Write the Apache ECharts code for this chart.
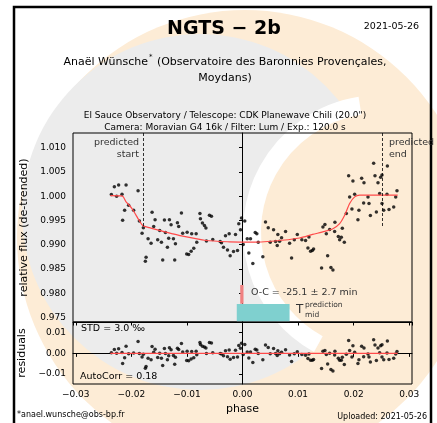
<!DOCTYPE html>
<html>
<head>
<meta charset="utf-8">
<script src="https://cdn.jsdelivr.net/npm/echarts@6/dist/echarts.min.js"></script>
<style>
  html, body { margin: 0; padding: 0; background: #fff; }
  #chart { width: 437px; height: 423px; }
</style>
</head>
<body>
<div id="chart"></div>
<script>
// measured light curve (phase, relative flux)
const phase = [
  -0.02360, -0.02306, -0.02265, -0.02229, -0.02168, -0.02157, -0.02121, -0.02095, -0.02049, -0.01959,
  -0.01879, -0.01856, -0.01807, -0.01784, -0.01748, -0.01735, -0.01699, -0.01645, -0.01627, -0.01598,
  -0.01573, -0.01526, -0.01490, -0.01459, -0.01436, -0.01405, -0.01387, -0.01351, -0.01328, -0.01315,
  -0.01285, -0.01243, -0.01220, -0.01207, -0.01171, -0.01148, -0.01099, -0.01076, -0.01004, -0.00996,
  -0.00968, -0.00924, -0.00914, -0.00877, -0.00834, -0.00823, -0.00766, -0.00757, -0.00721, -0.00685,
  -0.00658, -0.00649, -0.00595, -0.00559, -0.00535, -0.00402, -0.00378, -0.00342, -0.00306, -0.00270,
  -0.00240, -0.00222, -0.00162, -0.00126, -0.00090, -0.00067, -0.00036, -0.00018, 0.00013, 0.00041,
  0.00085, 0.00114, 0.00144, 0.00186, 0.00229, 0.00258, 0.00283, 0.00366, 0.00414, 0.00463,
  0.00499, 0.00559, 0.00595, 0.00625, 0.00636, 0.00667, 0.00703, 0.00775, 0.00847, 0.00883,
  0.00932, 0.00986, 0.01068, 0.01135, 0.01177, 0.01195, 0.01225, 0.01256, 0.01279, 0.01423,
  0.01447, 0.01483, 0.01508, 0.01532, 0.01568, 0.01591, 0.01627, 0.01658, 0.01663, 0.01724,
  0.01748, 0.01778, 0.01796, 0.01832, 0.01868, 0.01910, 0.01928, 0.01969, 0.01987, 0.02018,
  0.02077, 0.02095, 0.02144, 0.02180, 0.02186, 0.02258, 0.02276, 0.02301, 0.02360, 0.02384,
  0.02409, 0.02438, 0.02468, 0.02486, 0.02510, 0.02510, 0.02541, 0.02600, 0.02607, 0.02636,
  0.02721, 0.02757, 0.02780
];
const flux = [
  1.00035, 1.00193, 1.00000, 1.00228, 1.00041, 0.99502, 0.99710, 1.00228, 0.99813, 0.99710,
  1.00110, 0.99488, 0.99239, 0.99351, 0.98658, 0.98741, 0.99122, 0.99031, 0.99668, 0.99378,
  0.99517, 0.99102, 0.99295, 0.99052, 0.98687, 0.99508, 0.99253, 0.98948, 0.99135, 0.99517,
  0.99413, 0.99122, 0.98687, 0.99019, 0.99454, 0.99378, 0.99654, 0.99239, 0.98811, 0.99259,
  0.98797, 0.98865, 0.99226, 0.98927, 0.99226, 0.99052, 0.99641, 0.99533, 0.99446, 0.99398,
  0.99346, 0.99077, 0.99606, 0.99585, 0.99108, 0.99066, 0.99039, 0.98948, 0.99185, 0.98894,
  0.99226, 0.98776, 0.98859, 0.99212, 0.98880, 0.99434, 0.99309, 0.99550, 0.99004, 0.99488,
  0.99122, 0.98832, 0.99122, 0.98616, 0.99253, 0.99226, 0.99052, 0.98755, 0.99467, 0.99351,
  0.99052, 0.99309, 0.99066, 0.98983, 0.99212, 0.99073, 0.99143, 0.99274, 0.99031, 0.98728,
  0.99102, 0.99212, 0.99102, 0.99087, 0.98932, 0.99160, 0.98865, 0.98880, 0.98915, 0.98521,
  0.99363, 0.99419, 0.99226, 0.98776, 0.99315, 0.98533, 0.98479, 0.99274, 0.99461, 0.99170,
  0.99102, 0.99156, 0.99342, 0.99052, 0.99641, 1.00421, 0.99985, 0.99737, 1.00311, 1.00041,
  0.99517, 0.99710, 1.00367, 0.99861, 1.00276, 0.99985, 0.99849, 0.99600, 1.00678, 1.00421,
  0.99674, 1.00276, 1.00056, 1.00388, 1.00436, 0.99849, 0.99710, 1.00041, 1.00622, 0.99724,
  0.99778, 0.99985, 1.00110
];
const residual = [
  0.00025, 0.00183, 0.00000, 0.00228, 0.00041, -0.00489, -0.00218, 0.00346, -0.00015, 0.00020,
  0.00572, -0.00009, -0.00177, -0.00042, -0.00721, -0.00633, -0.00238, -0.00311, 0.00332, 0.00051,
  0.00197, -0.00203, 0.00001, -0.00233, -0.00591, 0.00240, -0.00010, -0.00304, -0.00111, 0.00275,
  0.00179, -0.00100, -0.00529, -0.00193, 0.00252, 0.00182, 0.00472, 0.00063, -0.00350, 0.00100,
  -0.00356, -0.00279, 0.00084, -0.00207, 0.00101, -0.00071, 0.00530, 0.00424, 0.00345, 0.00305,
  0.00258, -0.00010, 0.00523, 0.00504, 0.00029, -0.00005, -0.00030, -0.00119, 0.00120, -0.00168,
  0.00166, -0.00284, -0.00199, 0.00154, -0.00177, 0.00377, 0.00253, 0.00494, -0.00051, 0.00434,
  0.00069, -0.00220, 0.00069, -0.00439, 0.00195, 0.00167, -0.00009, -0.00310, 0.00399, 0.00280,
  -0.00021, 0.00233, -0.00013, -0.00101, 0.00127, -0.00016, 0.00049, 0.00170, -0.00083, -0.00391,
  -0.00024, 0.00079, -0.00050, -0.00086, -0.00254, -0.00031, -0.00336, -0.00330, -0.00302, -0.00737,
  0.00098, 0.00143, -0.00060, -0.00519, 0.00007, -0.00784, -0.00851, -0.00083, 0.00100, -0.00243,
  -0.00332, -0.00335, -0.00184, -0.00542, -0.00046, 0.00621, 0.00136, -0.00174, 0.00373, 0.00056,
  -0.00492, -0.00306, 0.00346, -0.00160, 0.00255, -0.00036, -0.00172, -0.00421, 0.00657, 0.00400,
  -0.00347, 0.00255, 0.00035, 0.00367, 0.00415, -0.00172, -0.00311, 0.00020, 0.00601, -0.00297,
  -0.00243, -0.00036, 0.00089
];
// transit model curve
const modelPhase = [
  -0.02378, -0.02162, -0.02095, -0.02036, -0.01977, -0.01919, -0.01868, -0.01796, -0.01676, -0.01375,
  -0.01076, -0.00654, -0.00234, 0.00126, 0.00577, 0.01027, 0.01261, 0.01477, 0.01627, 0.01748,
  0.01838, 0.01928, 0.02018, 0.02108, 0.02793
];
const modelFlux = [
  1.00010, 1.00000, 0.99882, 0.99813, 0.99724, 0.99616, 0.99517, 0.99398, 0.99351, 0.99259,
  0.99176, 0.99087, 0.99060, 0.99052, 0.99077, 0.99139, 0.99212, 0.99274, 0.99330, 0.99434,
  0.99606, 0.99849, 0.99985, 1.00021, 1.00021
];
// predicted ingress / egress and mid-time boxes
const predStart = -0.0178;
const predEnd = 0.0252;
const predLineBottom = 0.9938;
const ocBar = [[-0.00041, 0.97786], [0.00018, 0.98172]];
const tmidBox = [[-0.00103, 0.97425], [0.00847, 0.97780]];

const fluxMin = 0.9741, fluxMax = 1.0130;
const resMin = -0.01484, resMax = 0.01518;
const phaseMin = -0.0305, phaseMax = 0.0305;

const FONT = 'DejaVu Sans';
const chart = echarts.init(document.getElementById('chart'));

const pts = phase.map((p, i) => [p, flux[i]]);
const resPts = phase.map((p, i) => [p, residual[i]]);
const model = modelPhase.map((p, i) => [p, modelFlux[i]]);
const resZero = [[modelPhase[0], 0], [modelPhase[modelPhase.length - 1], 0]];

const minus = (s) => s.replace('-', '\u2212');

const txt = (x, y, text, opt) => ({
  type: 'text', x: x, y: y, z: 10, silent: true,
  style: Object.assign({ text: text, fontFamily: FONT, fontSize: 9, fill: '#000' }, opt || {})
});

const option = {
  animation: false,
  backgroundColor: '#fff',
  grid: [
    { left: 73, top: 133, width: 339, height: 189, show: true, borderColor: '#000', borderWidth: 1, backgroundColor: 'transparent' },
    { left: 73, top: 322, width: 339, height: 62, show: true, borderColor: '#000', borderWidth: 1, backgroundColor: 'transparent' }
  ],
  xAxis: [
    {
      gridIndex: 0, type: 'value', min: phaseMin, max: phaseMax, splitNumber: 6,
      axisLine: { lineStyle: { color: '#000' } },
      axisTick: { length: 3.5, lineStyle: { color: '#000' } },
      axisLabel: { show: false },
      splitLine: { show: false }
    },
    {
      gridIndex: 1, type: 'value', min: phaseMin, max: phaseMax, splitNumber: 6,
      name: 'phase', nameLocation: 'middle', nameGap: 20,
      nameTextStyle: { fontFamily: FONT, fontSize: 11, color: '#000' },
      axisLine: { lineStyle: { color: '#000' } },
      axisTick: { length: 3.5, lineStyle: { color: '#000' } },
      axisLabel: {
        fontFamily: FONT, fontSize: 9, color: '#000', margin: 6,
        showMinLabel: false, showMaxLabel: false,
        formatter: (v) => minus(v.toFixed(2))
      },
      splitLine: { show: false }
    }
  ],
  yAxis: [
    {
      gridIndex: 0, type: 'value', min: fluxMin, max: fluxMax, splitNumber: 8,
      name: 'relative flux (de-trended)', nameLocation: 'middle', nameGap: 35,
      nameTextStyle: { fontFamily: FONT, fontSize: 11, color: '#000' },
      axisLine: { show: true, lineStyle: { color: '#000' } },
      axisTick: { show: true, length: 3.5, lineStyle: { color: '#000' } },
      axisLabel: {
        fontFamily: FONT, fontSize: 9, color: '#000', margin: 7,
        showMinLabel: false, showMaxLabel: false,
        formatter: (v) => v.toFixed(3)
      },
      splitLine: { show: false }
    },
    {
      gridIndex: 1, type: 'value', min: resMin, max: resMax, splitNumber: 3,
      name: 'residuals', nameLocation: 'middle', nameGap: 35,
      nameTextStyle: { fontFamily: FONT, fontSize: 11, color: '#000' },
      axisLine: { show: true, lineStyle: { color: '#000' } },
      axisTick: { show: true, length: 3.5, lineStyle: { color: '#000' } },
      axisLabel: {
        fontFamily: FONT, fontSize: 9, color: '#000', margin: 7,
        showMinLabel: false, showMaxLabel: false,
        formatter: (v) => minus(v.toFixed(2))
      },
      splitLine: { show: false }
    }
  ],
  series: [
    {
      type: 'scatter', xAxisIndex: 0, yAxisIndex: 0, data: pts,
      symbolSize: 3.5, itemStyle: { color: '#000' }, silent: true,
      markArea: {
        silent: true,
        data: [
          [{ coord: tmidBox[0], itemStyle: { color: '#7fd0cf', opacity: 1 } }, { coord: tmidBox[1] }],
          [{ coord: ocBar[0], itemStyle: { color: '#f08080', opacity: 1 } }, { coord: ocBar[1] }]
        ]
      },
      markLine: {
        silent: true, symbol: 'none', label: { show: false },
        lineStyle: { color: '#000', type: [3, 2], width: 0.8 },
        data: [
          [{ coord: [predStart, fluxMax] }, { coord: [predStart, predLineBottom] }],
          [{ coord: [predEnd, fluxMax] }, { coord: [predEnd, predLineBottom] }]
        ]
      }
    },
    {
      type: 'line', xAxisIndex: 0, yAxisIndex: 0, data: model, smooth: 0.25,
      showSymbol: false, silent: true, z: 3,
      lineStyle: { color: '#ff4a4a', width: 1.2 }
    },
    {
      type: 'scatter', xAxisIndex: 1, yAxisIndex: 1, data: resPts,
      symbolSize: 3.5, itemStyle: { color: '#000' }, silent: true
    },
    {
      type: 'line', xAxisIndex: 1, yAxisIndex: 1, data: resZero,
      showSymbol: false, silent: true, z: 3,
      lineStyle: { color: '#ff4a4a', width: 1.2 }
    }
  ],
  graphic: [
    // watermark
    { type: 'circle', z: -10, silent: true, shape: { cx: 245, cy: 238, r: 228 }, style: { fill: '#fdecd6' } },
    { type: 'circle', z: -9, silent: true, shape: { cx: 200, cy: 212, r: 178 }, style: { fill: '#ececec' } },
    { type: 'circle', z: -8, silent: true, shape: { cx: 380, cy: 232, r: 128 }, style: { fill: '#fdecd6' } },
    { type: 'arc', z: -7, silent: true, shape: { cx: 380, cy: 232, r: 128, startAngle: Math.PI * 0.66, endAngle: Math.PI * 1.45, clockwise: true }, style: { stroke: '#ffffff', lineWidth: 18, fill: 'none' } },
    // outer frame
    { type: 'rect', z: 10, silent: true, shape: { x: 14, y: 7, width: 417, height: 430 }, style: { fill: 'none', stroke: '#000', lineWidth: 2.5 } },
    // titles
    txt(224, 29, 'NGTS \u2212 2b', { fontSize: 19, fontWeight: 'bold', align: 'center', verticalAlign: 'middle' }),
    txt(419, 27, '2021-05-26', { fontSize: 9.5, align: 'right', verticalAlign: 'middle' }),
    txt(225, 61, '{a|Ana\u00ebl W\u00fcnsche}{s|*}{a| (Observatoire des Baronnies Proven\u00e7ales,}', {
      align: 'center', verticalAlign: 'middle',
      rich: {
        a: { fontFamily: FONT, fontSize: 11, fill: '#000', lineHeight: 14, verticalAlign: 'bottom' },
        s: { fontFamily: FONT, fontSize: 7, fill: '#000', lineHeight: 14, verticalAlign: 'top', padding: [0, 1, 0, 1] }
      }
    }),
    txt(225, 78, 'Moydans)', { fontSize: 11, align: 'center', verticalAlign: 'middle' }),
    txt(225, 116, 'El Sauce Observatory / Telescope: CDK Planewave Chili (20.0")', { fontSize: 9, align: 'center', verticalAlign: 'middle' }),
    txt(225, 127.5, 'Camera: Moravian G4 16k / Filter: Lum / Exp.: 120.0 s', { fontSize: 9, align: 'center', verticalAlign: 'middle' }),
    // predicted start / end
    txt(139, 143, 'predicted', { fontSize: 9.5, fill: '#333', align: 'right', verticalAlign: 'middle' }),
    txt(139, 155, 'start', { fontSize: 9.5, fill: '#333', align: 'right', verticalAlign: 'middle' }),
    txt(389, 143, 'predicted', { fontSize: 9.5, fill: '#333', align: 'left', verticalAlign: 'middle' }),
    txt(389, 155, 'end', { fontSize: 9.5, fill: '#333', align: 'left', verticalAlign: 'middle' }),
    // O-C annotation
    txt(251, 293, 'O-C = -25.1 \u00b1 2.7 min', { fontSize: 9.5, fill: '#333', verticalAlign: 'middle' }),
    txt(296, 310, 'T', { fontSize: 12, fill: '#333', verticalAlign: 'middle' }),
    txt(305, 305, 'prediction', { fontSize: 7.5, fill: '#333', verticalAlign: 'middle' }),
    txt(305, 315, 'mid', { fontSize: 7.5, fill: '#333', verticalAlign: 'middle' }),
    // residual panel notes
    txt(81, 329, 'STD = 3.0 \u2030', { fontSize: 9.5, verticalAlign: 'middle' }),
    txt(80, 377, 'AutoCorr = 0.18', { fontSize: 9.5, verticalAlign: 'middle' }),
    // footer
    txt(17, 415, '*anael.wunsche@obs-bp.fr', { fontSize: 8, verticalAlign: 'middle' }),
    txt(427, 417, 'Uploaded: 2021-05-26', { fontSize: 8, align: 'right', verticalAlign: 'middle' })
  ]
};

chart.setOption(option);
</script>
</body>
</html>
